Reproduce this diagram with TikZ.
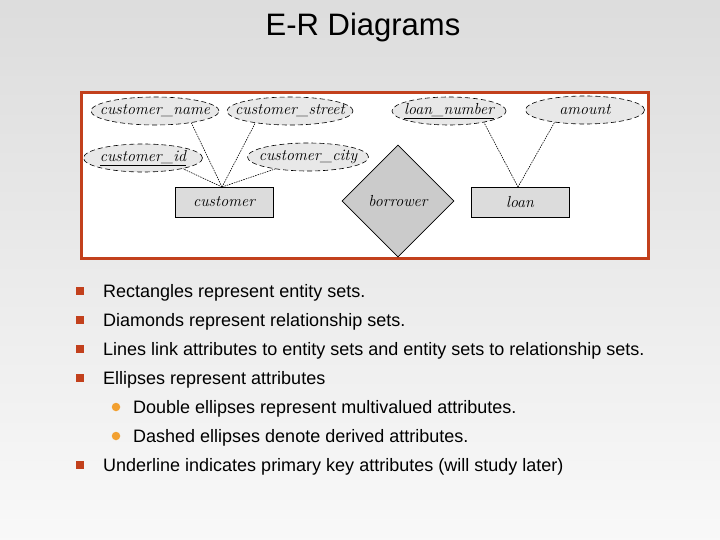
\documentclass[tikz,border=0pt]{standalone}
\usepackage{fontspec}
\setsansfont{Liberation Sans}
\usetikzlibrary{shapes.geometric}
\definecolor{frame}{HTML}{C2401C}
\definecolor{subdot}{HTML}{F2A030}
\definecolor{attrfill}{HTML}{E8E8E8}
\definecolor{entfill}{HTML}{DCDCDC}
\definecolor{relfill}{HTML}{CBCBCB}
\newcommand{\zw}[1]{\makebox[0pt]{#1}}
\tikzset{
  attr/.style={ellipse, draw, dash pattern=on 5pt off 3pt, line width=0.6pt, fill=attrfill, inner sep=0pt, minimum height=28pt, font=\fontsize{16}{16}\selectfont\itshape},
  ent/.style={rectangle, draw, line width=0.6pt, fill=entfill, font=\fontsize{16}{16}\selectfont\itshape, minimum width=98pt, minimum height=30pt, inner sep=0pt},
  rel/.style={diamond, draw, line width=0.6pt, fill=relfill, font=\fontsize{16}{16}\selectfont\itshape, minimum width=112pt, minimum height=112pt, inner sep=0pt},
  link/.style={dash pattern=on 1.5pt off 1pt, line width=0.6pt},
  btext/.style={anchor=base west, inner sep=0pt, font=\sffamily\fontsize{18}{18}\selectfont},
  sq/.style={rectangle, fill=frame, minimum size=8.5pt, inner sep=0pt},
  dot/.style={circle, fill=subdot, minimum size=8.5pt, inner sep=0pt}
}
\begin{document}
\begin{tikzpicture}[x=1pt,y=-1pt]
\useasboundingbox (0,0) rectangle (720,540);
\shade[top color=gray!27, bottom color=gray!5] (0,0) rectangle (720,540);
% title
\node[font=\sffamily\fontsize{31}{31}\selectfont, anchor=base] (title) at (363,36) {E-R Diagrams};
% frame
\draw[frame, line width=3pt, fill=white] (81,93) rectangle (648,258);
% attributes
\node[attr, minimum width=128pt] (cname) at (155,111) {\zw{customer\_name}};
\node[attr, minimum width=126pt] (cstreet) at (290,111) {\zw{customer\_street}};
\node[attr, minimum width=119pt] (cid) at (143,158) {\zw{\underline{customer\_id}}};
\node[attr, minimum width=121pt] (ccity) at (308,157) {\zw{customer\_city}};
\node[attr, minimum width=114pt] (lnum) at (449,111) {\zw{\underline{loan\_number}}};
\node[attr, minimum width=119pt] (amt) at (585,110) {\zw{amount}};
% entities
\node[ent] (cust) at (224,202) {customer};
\node[ent] (loan) at (520,202) {loan};
\node[rel] (borrow) at (398,201) {borrower};
% links
\coordinate (ctop) at (222,187);
\coordinate (ltop) at (518,187);
\draw[link] (ctop) -- (cname.-18);
\draw[link] (ctop) -- (cstreet.-161);
\draw[link] (ctop) -- (cid.-15);
\draw[link] (ctop) -- (ccity.-160);
\draw[link] (ltop) -- (lnum.-18);
\draw[link] (ltop) -- (amt.-158);
% bullets
\node[sq] (b1) at (80,291) {};
\node[btext] (t1) at (103,297) {Rectangles represent entity sets.};
\node[sq] (b2) at (80,320) {};
\node[btext] (t2) at (103,326) {Diamonds represent relationship sets.};
\node[sq] (b3) at (80,349) {};
\node[btext] (t3) at (103,355) {Lines link attributes to entity sets and entity sets to relationship sets.};
\node[sq] (b4) at (80,378) {};
\node[btext] (t4) at (103,384) {Ellipses represent attributes};
\node[dot] (b5) at (116,407) {};
\node[btext] (t5) at (133,413) {Double ellipses represent multivalued attributes.};
\node[dot] (b6) at (116,436) {};
\node[btext] (t6) at (133,442) {Dashed ellipses denote derived attributes.};
\node[sq] (b7) at (80,465) {};
\node[btext] (t7) at (103,471) {Underline indicates primary key attributes (will study later)};
\end{tikzpicture}
\end{document}
